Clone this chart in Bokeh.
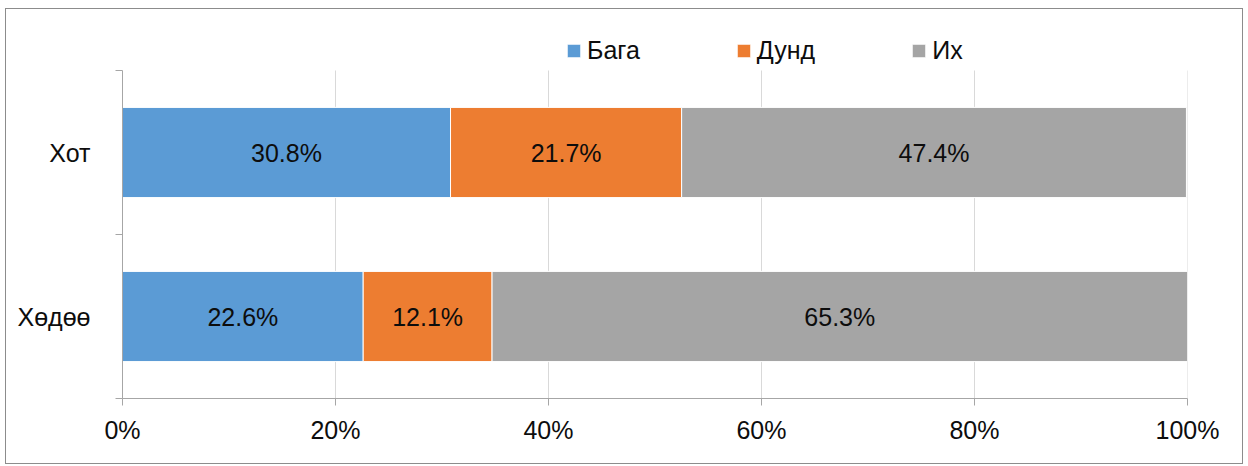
from bokeh.plotting import figure
from bokeh.models import (ColumnDataSource, Range1d, FixedTicker, PrintfTickFormatter, LabelSet,
                          Legend, LegendItem)
from bokeh.core.properties import value
from bokeh.embed import file_html
from bokeh.resources import INLINE

categories = ["Хөдөө", "Хот"]
series = ["Бага", "Дунд", "Их"]
baga = [22.6, 30.8]
dund = [12.1, 21.7]
ikh = [65.3, 47.4]
colors = ["#5B9BD5", "#ED7D31", "#A5A5A5"]
x_ticks = [0, 20, 40, 60, 80, 100]

ypos = [i + 0.5 for i in range(len(categories))]
FONT = "Liberation Sans"
ncat = len(categories)

src = ColumnDataSource(dict(y=ypos, Бага=baga, Дунд=dund, Их=ikh))

# frame extends above the category area to host the legend
p = figure(frame_width=1065, frame_height=364, output_backend="svg", toolbar_location=None,
           x_range=Range1d(0, 100), y_range=Range1d(0, ncat * 364 / 328),
           min_border_left=116, min_border_right=55, min_border_top=25, min_border_bottom=65)
p.styles = {"border": "1px solid #8c8c8c", "margin-left": "5px", "margin-top": "8px"}
p.outline_line_color = None

# vertical gridlines limited to the category area
gx = x_ticks[1:]
p.segment(x0=gx, x1=gx, y0=[0] * len(gx), y1=[ncat] * len(gx), line_color="#D9D9D9", line_width=1)

rs = p.hbar_stack(series, y="y", height=0.55, color=colors, source=src,
                  line_color="white", line_width=1)

# data labels
lx, ly, lt = [], [], []
vals = [baga, dund, ikh]
for i in range(ncat):
    left = 0
    for s in range(len(series)):
        v = vals[s][i]
        lx.append(left + v / 2)
        ly.append(ypos[i])
        lt.append(f"{v:.1f}%")
        left += v
lsrc = ColumnDataSource(dict(x=lx, y=ly, t=lt))
p.add_layout(LabelSet(x="x", y="y", text="t", source=lsrc, text_align="center",
                      text_baseline="middle", text_font=value(FONT), text_font_size="25px",
                      text_color="#0d0d0d"))

# x axis
xa = p.xaxis[0]
xa.ticker = FixedTicker(ticks=x_ticks)
xa.formatter = PrintfTickFormatter(format="%d%%")
xa.axis_line_color = "#A6A6A6"
xa.major_tick_line_color = "#A6A6A6"
xa.major_tick_out = 7
xa.major_tick_in = 0
xa.minor_tick_line_color = None
xa.major_label_text_font = FONT
xa.major_label_text_font_size = "25px"
xa.major_label_text_color = "#0d0d0d"
xa.major_label_standoff = 10

# y axis
ya = p.yaxis[0]
ya.bounds = (0, ncat)
ya.ticker = FixedTicker(ticks=ypos, minor_ticks=[float(i) for i in range(ncat + 1)])
ya.major_label_overrides = {ypos[i]: categories[i] for i in range(ncat)}
ya.axis_line_color = "#A6A6A6"
ya.major_tick_line_color = None
ya.major_tick_out = 0
ya.major_tick_in = 0
ya.minor_tick_line_color = "#A6A6A6"
ya.minor_tick_out = 7
ya.minor_tick_in = 0
ya.major_label_text_font = FONT
ya.major_label_text_font_size = "25px"
ya.major_label_text_color = "#0d0d0d"
ya.major_label_standoff = 25

p.xgrid.grid_line_color = None
p.ygrid.grid_line_color = None

lg = Legend(items=[LegendItem(label=series[k], renderers=[rs[k]]) for k in range(len(series))],
            orientation="horizontal", location=(443, 333))
lg.border_line_color = None
lg.background_fill_alpha = 0
lg.padding = 0
lg.margin = 0
lg.spacing = 95
lg.glyph_width = 17
lg.glyph_height = 17
lg.label_standoff = 5
lg.label_text_font = FONT
lg.label_text_font_size = "25px"
lg.label_text_color = "#0d0d0d"
p.add_layout(lg)

open("out.html", "w").write(file_html(p, INLINE))
